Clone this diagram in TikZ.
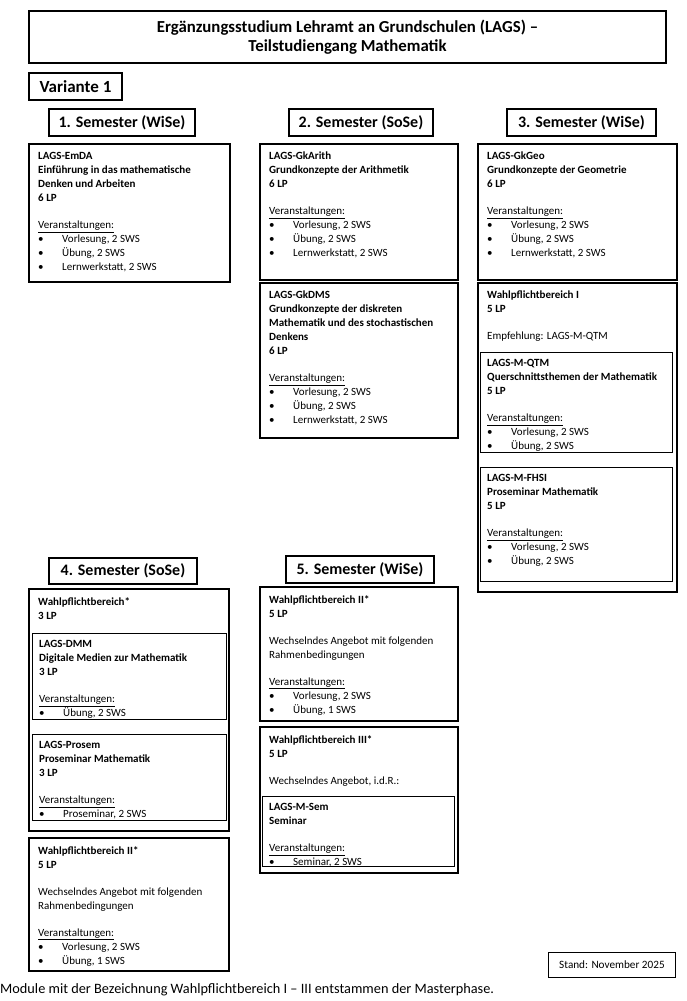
\documentclass[tikz,border=0pt]{standalone}
\usepackage{fontspec}
\setmainfont{Carlito}
\usetikzlibrary{positioning}
\newcommand{\itm}[1]{\makebox[24pt][l]{\textbullet}#1}
\newcommand{\vst}{\underline{Veranstaltungen:}}
\tikzset{
  outerbox/.style={draw, line width=2pt, anchor=north west, inner sep=0pt},
  innerbox/.style={draw, line width=0.9pt, anchor=north west, inner sep=0pt},
  headbox/.style={draw, line width=2pt, anchor=north west, inner sep=0pt},
  headtext/.style={font=\fontsize{16}{19}\selectfont\bfseries},
  modtext/.style={align=left, inner sep=0pt, font=\fontsize{11}{14}\selectfont},
}

\begin{document}
\begin{tikzpicture}[x=1pt, y=-1pt]
  \useasboundingbox (0,0) rectangle (687,1001);
  % title and headings
  \node[outerbox, minimum width=637, minimum height=52] (title) at (28,10) {};
  \node[align=center, font=\fontsize{16.8}{19}\selectfont\bfseries] (titletxt) at (title.center)
    {Ergänzungsstudium Lehramt an Grundschulen (LAGS) --\\ Teilstudiengang Mathematik};
  \node[headbox, minimum width=93, minimum height=27] (var) at (28,72) {};
  \node[font=\fontsize{17}{19}\selectfont\bfseries] (vartxt) at (var.center) {Variante 1};
  \node[headbox, minimum width=146, minimum height=27] (sem1) at (48,108) {};
  \node[headtext] (sem1txt) at (sem1.center) {1. Semester (WiSe)};
  \node[headbox, minimum width=144, minimum height=27] (sem2) at (288,108) {};
  \node[headtext] (sem2txt) at (sem2.center) {2. Semester (SoSe)};
  \node[headbox, minimum width=149, minimum height=27] (sem3) at (506,108) {};
  \node[headtext] (sem3txt) at (sem3.center) {3. Semester (WiSe)};
  \node[headbox, minimum width=148, minimum height=26] (sem4) at (48,557) {};
  \node[headtext] (sem4txt) at (sem4.center) {4. Semester (SoSe)};
  \node[headbox, minimum width=148, minimum height=27] (sem5) at (285,555) {};
  \node[headtext] (sem5txt) at (sem5.center) {5. Semester (WiSe)};

  % 1. Semester
  \node[outerbox, minimum width=201, minimum height=138] (emda) at (28,143) {};
  \node[modtext, below right=9pt and 10pt of emda.north west] (emdatxt)
    {\textbf{LAGS-EmDA}\\ \textbf{Einführung in das mathematische}\\ \textbf{Denken und Arbeiten}\\ \textbf{6 LP}\\[13pt]
     \vst\\ \itm{Vorlesung, 2 SWS}\\ \itm{Übung, 2 SWS}\\ \itm{Lernwerkstatt, 2 SWS}};

  % 2. Semester
  \node[outerbox, minimum width=198, minimum height=136] (arith) at (259,143) {};
  \node[modtext, below right=9pt and 10pt of arith.north west] (arithtxt)
    {\textbf{LAGS-GkArith}\\ \textbf{Grundkonzepte der Arithmetik}\\ \textbf{6 LP}\\[13pt]
     \vst\\ \itm{Vorlesung, 2 SWS}\\ \itm{Übung, 2 SWS}\\ \itm{Lernwerkstatt, 2 SWS}};
  \node[outerbox, minimum width=198, minimum height=155] (dms) at (259,282) {};
  \node[modtext, below right=9pt and 10pt of dms.north west] (dmstxt)
    {\textbf{LAGS-GkDMS}\\ \textbf{Grundkonzepte der diskreten}\\ \textbf{Mathematik und des stochastischen}\\ \textbf{Denkens}\\ \textbf{6 LP}\\[13pt]
     \vst\\ \itm{Vorlesung, 2 SWS}\\ \itm{Übung, 2 SWS}\\ \itm{Lernwerkstatt, 2 SWS}};

  % 3. Semester
  \node[outerbox, minimum width=199, minimum height=136] (geo) at (477,143) {};
  \node[modtext, below right=9pt and 10pt of geo.north west] (geotxt)
    {\textbf{LAGS-GkGeo}\\ \textbf{Grundkonzepte der Geometrie}\\ \textbf{6 LP}\\[13pt]
     \vst\\ \itm{Vorlesung, 2 SWS}\\ \itm{Übung, 2 SWS}\\ \itm{Lernwerkstatt, 2 SWS}};
  \node[outerbox, minimum width=199, minimum height=309] (wpI) at (477,282) {};
  \node[modtext, below right=9pt and 10pt of wpI.north west] (wpItxt)
    {\textbf{Wahlpflichtbereich I}\\ \textbf{5 LP}\\[13pt] Empfehlung: LAGS-M-QTM};
  \node[innerbox, minimum width=192, minimum height=100] (qtm) at (480,352) {};
  \node[modtext, below right=7pt and 7pt of qtm.north west] (qtmtxt)
    {\textbf{LAGS-M-QTM}\\ \textbf{Querschnittsthemen der Mathematik}\\ \textbf{5 LP}\\[13pt]
     \vst\\ \itm{Vorlesung, 2 SWS}\\ \itm{Übung, 2 SWS}};
  \node[innerbox, minimum width=192, minimum height=114] (fhsi) at (480,467) {};
  \node[modtext, below right=7pt and 7pt of fhsi.north west] (fhsitxt)
    {\textbf{LAGS-M-FHSI}\\ \textbf{Proseminar Mathematik}\\ \textbf{5 LP}\\[13pt]
     \vst\\ \itm{Vorlesung, 2 SWS}\\ \itm{Übung, 2 SWS}};

  % 4. Semester
  \node[outerbox, minimum width=200, minimum height=242] (wp4) at (28,588) {};
  \node[modtext, below right=9pt and 10pt of wp4.north west] (wp4txt)
    {\textbf{Wahlpflichtbereich*}\\ \textbf{3 LP}};
  \node[innerbox, minimum width=194, minimum height=86] (dmm) at (32,633) {};
  \node[modtext, below right=7pt and 7pt of dmm.north west] (dmmtxt)
    {\textbf{LAGS-DMM}\\ \textbf{Digitale Medien zur Mathematik}\\ \textbf{3 LP}\\[13pt]
     \vst\\ \itm{Übung, 2 SWS}};
  \node[innerbox, minimum width=194, minimum height=86] (prosem) at (32,734) {};
  \node[modtext, below right=7pt and 7pt of prosem.north west] (prosemtxt)
    {\textbf{LAGS-Prosem}\\ \textbf{Proseminar Mathematik}\\ \textbf{3 LP}\\[13pt]
     \vst\\ \itm{Proseminar, 2 SWS}};
  \node[outerbox, minimum width=200, minimum height=133] (wpIIa) at (28,837) {};
  \node[modtext, below right=9pt and 10pt of wpIIa.north west] (wpIIatxt)
    {\textbf{Wahlpflichtbereich II*}\\ \textbf{5 LP}\\[13pt] Wechselndes Angebot mit folgenden\\ Rahmenbedingungen\\[13pt]
     \vst\\ \itm{Vorlesung, 2 SWS}\\ \itm{Übung, 1 SWS}};

  % 5. Semester
  \node[outerbox, minimum width=198, minimum height=134] (wpIIb) at (259,586) {};
  \node[modtext, below right=9pt and 10pt of wpIIb.north west] (wpIIbtxt)
    {\textbf{Wahlpflichtbereich II*}\\ \textbf{5 LP}\\[13pt] Wechselndes Angebot mit folgenden\\ Rahmenbedingungen\\[13pt]
     \vst\\ \itm{Vorlesung, 2 SWS}\\ \itm{Übung, 1 SWS}};
  \node[outerbox, minimum width=198, minimum height=146] (wpIII) at (259,726) {};
  \node[modtext, below right=9pt and 10pt of wpIII.north west] (wpIIItxt)
    {\textbf{Wahlpflichtbereich III*}\\ \textbf{5 LP}\\[13pt] Wechselndes Angebot, i.d.R.:};
  \node[innerbox, minimum width=192, minimum height=70] (sem) at (262,796) {};
  \node[modtext, below right=7pt and 7pt of sem.north west] (semtxt)
    {\textbf{LAGS-M-Sem}\\ \textbf{Seminar}\\[13pt]
     \vst\\ \itm{Seminar, 2 SWS}};

  % footer
  \node[innerbox, minimum width=127, minimum height=25] (stand) at (548,952) {};
  \node[font=\fontsize{11.2}{13}\selectfont] (standtxt) at (stand.center) {Stand: November 2025};
  \node[anchor=west, inner sep=0pt, font=\fontsize{14.3}{17}\selectfont] (note) at (0,990)
    {Module mit der Bezeichnung Wahlpflichtbereich I -- III entstammen der Masterphase.};
\end{tikzpicture}
\end{document}
